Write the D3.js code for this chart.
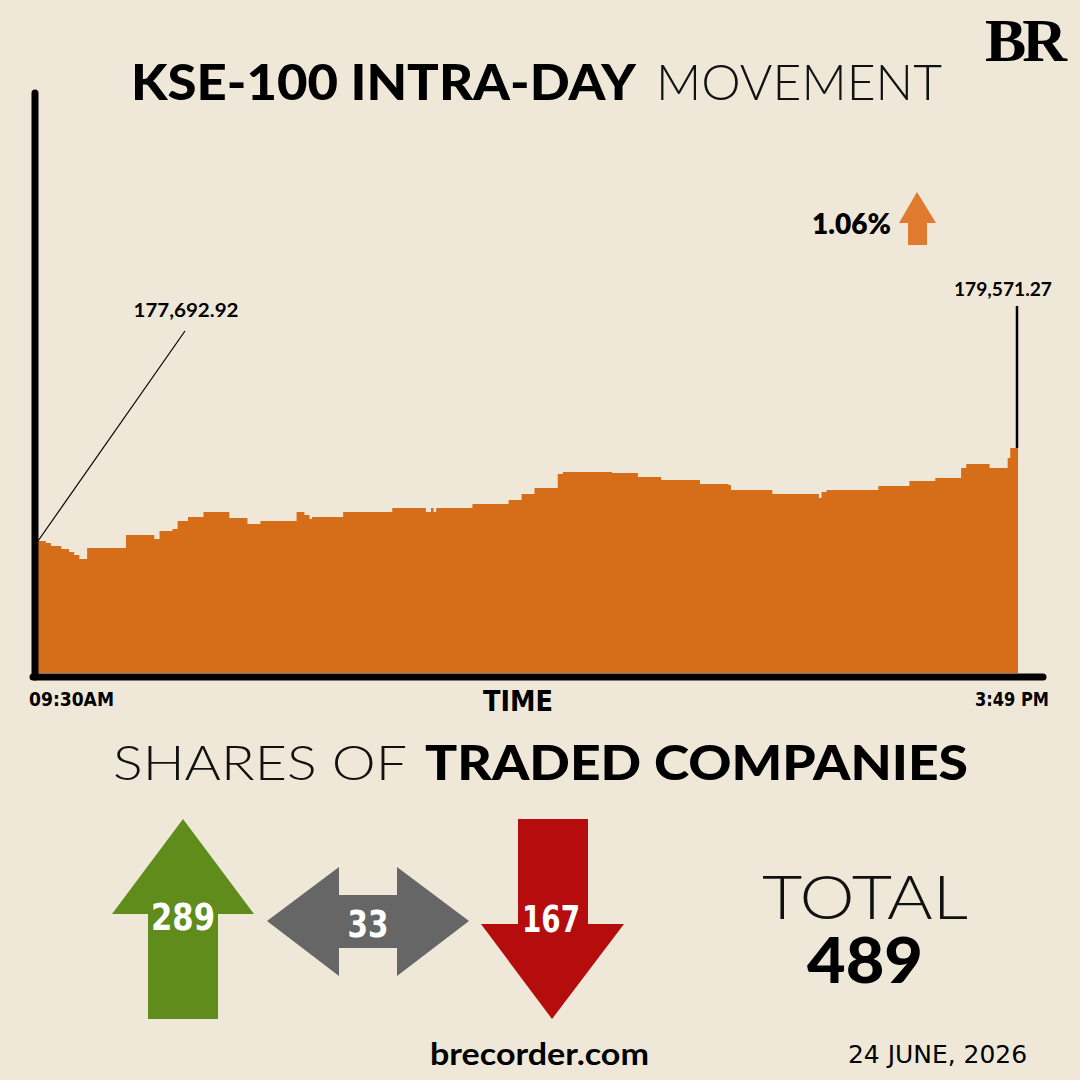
<!DOCTYPE html>
<html>
<head>
<meta charset="utf-8">
<script src="https://cdn.jsdelivr.net/npm/d3@7"></script>
<style>
  html, body { margin: 0; padding: 0; background: #efe8d8; }
  svg { display: block; }
</style>
</head>
<body>
<div id="chart"></div>
<script>
// DATA: minutes since 09:30 and KSE-100 index level
const minutes = [0,3,5,9,12,14,16,18,19,32,34,43,45,47,52,54,58,64,73,74,79,81,86,97,100,103,105,106,117,118,
  137,149,150,152,153,154,167,168,181,182,186,187,191,192,200,201,203,221,222,230,232,239,241,255,256,267,268,
  283,284,301,302,303,305,324,325,336,337,346,347,355,357,359,366,368,373,375,376,379];
const indexValues = [177692.92,177653,177592,177531,177471,177410,177330,177330,177552,177552,177814,177814,177733,
  177895,177935,178097,178178,178279,178279,178158,178158,178036,178097,178097,178279,178218,178137,178178,178178,
  178279,178360,178360,178279,178360,178279,178360,178360,178440,178440,178521,178521,178642,178642,178763,178763,
  179046,179087,179087,179066,179066,178986,178986,178925,178925,178844,178824,178723,178723,178642,178642,178562,
  178683,178723,178723,178804,178804,178905,178905,178965,178965,179167,179248,179248,179167,179167,179369,
  179571.27,179571.27];
const timeLabels = ["09:30AM", "3:49 PM"];
const openLabel = "177,692.92";
const closeLabel = "179,571.27";
const changeLabel = "1.06%";

const shareCategories = ["up", "unchanged", "down"];
const shareCounts = [289, 33, 167];
const totalCount = 489;
const dateLabel = "24 JUNE, 2026";

const W = 1080, H = 1080;
const bg = "#efe8d8";

const svg = d3.select("#chart").append("svg")
    .attr("width", W)
    .attr("height", H);

svg.append("rect").attr("width", W).attr("height", H).attr("fill", bg);

const data = minutes.map((m, i) => ({ m: m, v: indexValues[i] }));

// scales
const x = d3.scaleLinear().domain([0, 379]).range([38, 1018]);
const y = d3.scaleLinear().domain([175027, 186741]).range([673, 93]);

// area (stepped, like the tick data)
const area = d3.area()
    .curve(d3.curveStepAfter)
    .x(d => x(d.m))
    .y0(y(175027))
    .y1(d => y(d.v));

svg.append("path")
    .datum(data)
    .attr("d", area)
    .attr("fill", "#d56d19");

// axes (thick black lines with round caps)
svg.append("line")
    .attr("x1", 35).attr("x2", 35)
    .attr("y1", y.range()[1]).attr("y2", y.range()[0] + 4)
    .attr("stroke", "#000").attr("stroke-width", 7).attr("stroke-linecap", "round");
svg.append("line")
    .attr("x1", 33).attr("x2", x.range()[1] + 25)
    .attr("y1", y.range()[0] + 4).attr("y2", y.range()[0] + 4)
    .attr("stroke", "#000").attr("stroke-width", 7).attr("stroke-linecap", "round");

// axis labels
const condensed = "'DejaVu Sans Condensed', 'Liberation Sans Narrow', sans-serif";
svg.append("text")
    .attr("x", x(0) - 9).attr("y", 706)
    .attr("font-family", condensed).attr("font-weight", 700).attr("font-size", 20)
    .attr("textLength", 85).attr("lengthAdjust", "spacingAndGlyphs")
    .text(timeLabels[0]);
svg.append("text")
    .attr("x", x(379) + 31).attr("y", 706)
    .attr("text-anchor", "end")
    .attr("font-family", condensed).attr("font-weight", 700).attr("font-size", 20)
    .attr("textLength", 74).attr("lengthAdjust", "spacingAndGlyphs")
    .text(timeLabels[1]);
svg.append("text")
    .attr("x", 518).attr("y", 711)
    .attr("text-anchor", "middle")
    .attr("font-family", condensed).attr("font-weight", 700).attr("font-size", 28)
    .attr("textLength", 70).attr("lengthAdjust", "spacingAndGlyphs")
    .text("TIME");

// title
const sans = "Lato, 'Open Sans', sans-serif";
svg.append("text")
    .attr("x", 131).attr("y", 100)
    .attr("font-family", sans).attr("font-weight", 900).attr("font-size", 50)
    .attr("textLength", 505).attr("lengthAdjust", "spacingAndGlyphs")
    .text("KSE-100 INTRA-DAY");
svg.append("text")
    .attr("x", 656).attr("y", 100)
    .attr("font-family", sans).attr("font-weight", 300).attr("font-size", 50)
    .attr("textLength", 286).attr("lengthAdjust", "spacingAndGlyphs")
    .attr("fill", "#111")
    .text("MOVEMENT");

// BR logo
svg.append("text")
    .attr("x", 985).attr("y", 61)
    .attr("font-family", "'Liberation Serif', 'DejaVu Serif', serif").attr("font-weight", 700).attr("font-size", 62)
    .attr("textLength", 78).attr("lengthAdjust", "spacingAndGlyphs")
    .attr("letter-spacing", -4)
    .text("BR");

// open / close annotations
const first = data[0], last = data[data.length - 1];
svg.append("line")
    .attr("x1", x(first.m)).attr("y1", y(first.v))
    .attr("x2", 185).attr("y2", 331)
    .attr("stroke", "#000").attr("stroke-width", 1.2);
svg.append("text")
    .attr("x", 186).attr("y", 317)
    .attr("text-anchor", "middle")
    .attr("font-family", sans).attr("font-weight", 700).attr("font-size", 19)
    .attr("textLength", 105).attr("lengthAdjust", "spacingAndGlyphs")
    .text(openLabel);

svg.append("line")
    .attr("x1", x(last.m) - 1).attr("y1", y(last.v))
    .attr("x2", x(last.m) - 1).attr("y2", 306)
    .attr("stroke", "#000").attr("stroke-width", 2.5);
svg.append("text")
    .attr("x", 1003).attr("y", 296)
    .attr("text-anchor", "middle")
    .attr("font-family", sans).attr("font-weight", 700).attr("font-size", 19)
    .attr("textLength", 98).attr("lengthAdjust", "spacingAndGlyphs")
    .text(closeLabel);

// change label with arrow
svg.append("text")
    .attr("x", 812).attr("y", 234)
    .attr("font-family", sans).attr("font-weight", 800).attr("font-size", 28)
    .attr("textLength", 79).attr("lengthAdjust", "spacingAndGlyphs")
    .text(changeLabel);
svg.append("path")
    .attr("d", "M917,192 L936,223 L927,223 L927,245 L908,245 L908,223 L899,223 Z")
    .attr("fill", "#e07a2f");

// subtitle
svg.append("text")
    .attr("x", 113).attr("y", 780)
    .attr("font-family", sans).attr("font-weight", 300).attr("font-size", 48)
    .attr("textLength", 294).attr("lengthAdjust", "spacingAndGlyphs")
    .attr("fill", "#111")
    .text("SHARES OF");
svg.append("text")
    .attr("x", 425).attr("y", 780)
    .attr("font-family", sans).attr("font-weight", 900).attr("font-size", 48)
    .attr("textLength", 543).attr("lengthAdjust", "spacingAndGlyphs")
    .text("TRADED COMPANIES");

// shares arrows
const arrowShapes = {
  up: "M183,819 L254,914 L218,914 L218,1019 L148,1019 L148,914 L112,914 Z",
  unchanged: "M267,921 L339,867 L339,895 L397,895 L397,867 L469,921 L397,976 L397,948 L339,948 L339,976 Z",
  down: "M518,819 L588,819 L588,924 L624,924 L552,1019 L481,924 L518,924 Z"
};
const arrowColors = { up: "#5f8c1b", unchanged: "#666666", down: "#b50c0d" };
const labelPos = { up: [183, 930], unchanged: [368, 937], down: [551, 932] };
const labelWidth = { up: 64, unchanged: 41, down: 58 };

const arrows = svg.selectAll("g.share")
    .data(shareCategories.map((c, i) => ({ cat: c, count: shareCounts[i] })))
    .join("g")
    .attr("class", "share");

arrows.append("path")
    .attr("d", d => arrowShapes[d.cat])
    .attr("fill", d => arrowColors[d.cat]);

arrows.append("text")
    .attr("x", d => labelPos[d.cat][0])
    .attr("y", d => labelPos[d.cat][1])
    .attr("text-anchor", "middle")
    .attr("font-family", condensed).attr("font-weight", 700).attr("font-size", 37)
    .attr("textLength", d => labelWidth[d.cat]).attr("lengthAdjust", "spacingAndGlyphs")
    .attr("fill", "#fff")
    .text(d => d.count);

// total
svg.append("text")
    .attr("x", 865).attr("y", 919)
    .attr("text-anchor", "middle")
    .attr("font-family", sans).attr("font-weight", 300).attr("font-size", 62)
    .attr("textLength", 206).attr("lengthAdjust", "spacingAndGlyphs")
    .attr("fill", "#111")
    .text("TOTAL");
svg.append("text")
    .attr("x", 865).attr("y", 983)
    .attr("text-anchor", "middle")
    .attr("font-family", sans).attr("font-weight", 900).attr("font-size", 62)
    .attr("textLength", 116).attr("lengthAdjust", "spacingAndGlyphs")
    .text(totalCount);

// footer
svg.append("text")
    .attr("x", 430).attr("y", 1065)
    .attr("font-family", sans).attr("font-weight", 700).attr("font-size", 30)
    .attr("textLength", 219).attr("lengthAdjust", "spacingAndGlyphs")
    .text("brecorder.com");
svg.append("text")
    .attr("x", 848).attr("y", 1063)
    .attr("font-family", condensed).attr("font-weight", 400).attr("font-size", 25)
    .attr("textLength", 179).attr("lengthAdjust", "spacingAndGlyphs")
    .text(dateLabel);
</script>
</body>
</html>
